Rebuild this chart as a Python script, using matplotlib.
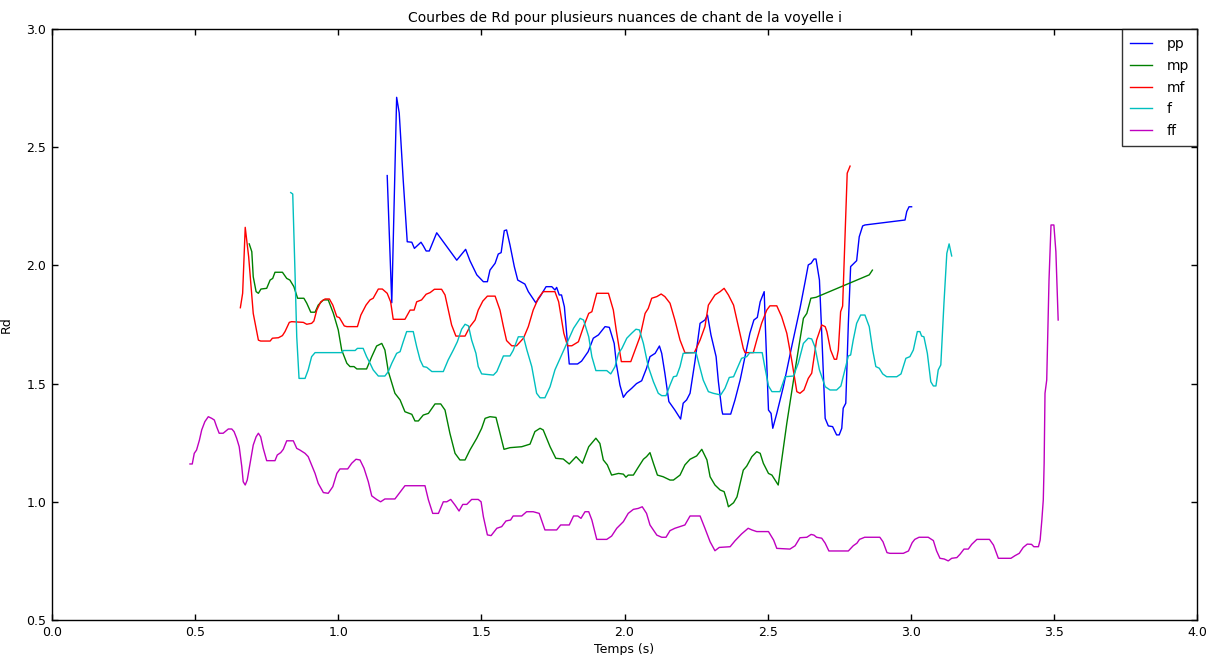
import matplotlib
matplotlib.use("Agg")
import matplotlib.pyplot as plt

# ---- data (time in s, Rd) ----
pp_t = [1.171, 1.187, 1.204, 1.213, 1.227, 1.241, 1.257, 1.266, 1.289, 1.297, 1.307, 1.318, 1.344, 1.414,
        1.445, 1.46, 1.484, 1.507, 1.521, 1.53, 1.548, 1.559, 1.569, 1.58, 1.588, 1.6, 1.615, 1.627, 1.652,
        1.664, 1.69, 1.705, 1.726, 1.746, 1.757, 1.763, 1.772, 1.78, 1.79, 1.807, 1.836, 1.85, 1.873, 1.891,
        1.909, 1.932, 1.947, 1.964, 1.972, 1.984, 1.996, 2.008, 2.025, 2.042, 2.06, 2.077, 2.089, 2.107, 2.122,
        2.13, 2.141, 2.155, 2.176, 2.196, 2.205, 2.217, 2.229, 2.246, 2.264, 2.281, 2.29, 2.302, 2.32, 2.328,
        2.34, 2.343, 2.371, 2.386, 2.404, 2.421, 2.438, 2.452, 2.464, 2.474, 2.488, 2.493, 2.503, 2.512, 2.518,
        2.532, 2.555, 2.584, 2.613, 2.631, 2.642, 2.652, 2.662, 2.669, 2.681, 2.689, 2.701, 2.712, 2.727, 2.741,
        2.75, 2.759, 2.764, 2.773, 2.782, 2.79, 2.811, 2.82, 2.832, 2.84, 2.98, 2.986, 2.994, 3.003]
pp_rd = [2.38, 1.842, 2.711, 2.645, 2.36, 2.10, 2.098, 2.072, 2.098, 2.083, 2.061, 2.061, 2.138, 2.022,
         2.068, 2.02, 1.96, 1.931, 1.931, 1.98, 2.009, 2.048, 2.054, 2.147, 2.15, 2.086, 1.995, 1.938, 1.921,
         1.889, 1.842, 1.868, 1.91, 1.91, 1.896, 1.907, 1.875, 1.875, 1.825, 1.583, 1.583, 1.595, 1.635, 1.692,
         1.706, 1.741, 1.738, 1.67, 1.58, 1.494, 1.442, 1.462, 1.48, 1.50, 1.512, 1.565, 1.614, 1.628, 1.659,
         1.628, 1.544, 1.424, 1.388, 1.35, 1.417, 1.431, 1.459, 1.593, 1.755, 1.769, 1.79, 1.706, 1.614, 1.508,
         1.388, 1.371, 1.371, 1.431, 1.515, 1.614, 1.713, 1.769, 1.78, 1.846, 1.889, 1.713, 1.388, 1.374, 1.311,
         1.374, 1.487, 1.656, 1.818, 1.931, 2.002, 2.009, 2.027, 2.027, 1.938, 1.713, 1.353, 1.321, 1.318, 1.283,
         1.283, 1.311, 1.396, 1.417, 1.755, 1.995, 2.02, 2.121, 2.167, 2.171, 2.192, 2.228, 2.248, 2.248]

mp_t = [0.689, 0.698, 0.703, 0.713, 0.721, 0.73, 0.75, 0.762, 0.771, 0.779, 0.805, 0.82, 0.831, 0.845, 0.858,
        0.88, 0.89, 0.904, 0.919, 0.93, 0.948, 0.965, 0.983, 1.0, 1.012, 1.03, 1.041, 1.055, 1.065, 1.099,
        1.117, 1.134, 1.152, 1.163, 1.175, 1.198, 1.216, 1.233, 1.257, 1.268, 1.28, 1.297, 1.315, 1.338, 1.358,
        1.373, 1.39, 1.408, 1.425, 1.443, 1.46, 1.484, 1.501, 1.513, 1.53, 1.551, 1.565, 1.579, 1.60, 1.641,
        1.67, 1.687, 1.705, 1.716, 1.74, 1.76, 1.786, 1.807, 1.831, 1.853, 1.875, 1.90, 1.914, 1.926, 1.94,
        1.955, 1.979, 1.996, 2.005, 2.013, 2.031, 2.048, 2.066, 2.077, 2.089, 2.101, 2.115, 2.135, 2.159, 2.171,
        2.194, 2.211, 2.229, 2.252, 2.27, 2.288, 2.299, 2.316, 2.334, 2.348, 2.357, 2.363, 2.381, 2.393, 2.404,
        2.415, 2.427, 2.445, 2.462, 2.474, 2.485, 2.503, 2.515, 2.526, 2.537, 2.567, 2.596, 2.625, 2.637, 2.651,
        2.669, 2.855, 2.866]
mp_rd = [2.091, 2.058, 1.952, 1.889, 1.882, 1.90, 1.903, 1.938, 1.945, 1.971, 1.971, 1.945, 1.938, 1.91, 1.861,
         1.861, 1.84, 1.802, 1.802, 1.832, 1.854, 1.854, 1.797, 1.727, 1.642, 1.586, 1.572, 1.572, 1.562, 1.562,
         1.614, 1.659, 1.67, 1.642, 1.551, 1.459, 1.431, 1.381, 1.37, 1.342, 1.342, 1.367, 1.374, 1.414, 1.414,
         1.388, 1.29, 1.205, 1.177, 1.177, 1.219, 1.269, 1.311, 1.353, 1.36, 1.357, 1.29, 1.222, 1.229, 1.233,
         1.244, 1.297, 1.311, 1.304, 1.233, 1.184, 1.181, 1.16, 1.191, 1.163, 1.233, 1.269, 1.247, 1.177, 1.156,
         1.113, 1.12, 1.117, 1.104, 1.113, 1.113, 1.146, 1.18, 1.191, 1.208, 1.163, 1.113, 1.106, 1.092, 1.092,
         1.113, 1.156, 1.18, 1.194, 1.222, 1.177, 1.106, 1.071, 1.05, 1.043, 1.008, 0.979, 0.996, 1.021, 1.078,
         1.134, 1.151, 1.191, 1.212, 1.205, 1.163, 1.12, 1.113, 1.092, 1.071, 1.332, 1.558, 1.776, 1.797, 1.861,
         1.865, 1.96, 1.98]

mf_t = [0.658, 0.666, 0.675, 0.687, 0.703, 0.721, 0.729, 0.762, 0.77, 0.791, 0.805, 0.814, 0.829, 0.837, 0.878,
        0.89, 0.907, 0.915, 0.925, 0.939, 0.954, 0.969, 0.981, 0.995, 1.004, 1.021, 1.03, 1.067, 1.079, 1.097,
        1.111, 1.122, 1.14, 1.154, 1.171, 1.183, 1.192, 1.233, 1.251, 1.265, 1.274, 1.291, 1.307, 1.321, 1.336,
        1.361, 1.373, 1.387, 1.396, 1.411, 1.443, 1.46, 1.478, 1.489, 1.505, 1.521, 1.548, 1.565, 1.577, 1.588,
        1.606, 1.623, 1.647, 1.664, 1.681, 1.699, 1.716, 1.757, 1.77, 1.788, 1.801, 1.816, 1.839, 1.857, 1.875,
        1.886, 1.903, 1.944, 1.961, 1.971, 1.989, 2.022, 2.037, 2.054, 2.072, 2.083, 2.095, 2.113, 2.128, 2.141,
        2.159, 2.176, 2.194, 2.211, 2.244, 2.264, 2.281, 2.293, 2.316, 2.334, 2.348, 2.363, 2.381, 2.398, 2.415,
        2.421, 2.45, 2.462, 2.479, 2.497, 2.508, 2.532, 2.549, 2.567, 2.584, 2.602, 2.613, 2.627, 2.642, 2.654,
        2.671, 2.689, 2.701, 2.707, 2.72, 2.733, 2.741, 2.747, 2.755, 2.762, 2.77, 2.778, 2.788]
mf_rd = [1.821, 1.882, 2.161, 2.037, 1.797, 1.684, 1.68, 1.68, 1.692, 1.694, 1.703, 1.72, 1.759, 1.762, 1.759,
         1.751, 1.755, 1.765, 1.811, 1.846, 1.858, 1.858, 1.832, 1.783, 1.779, 1.744, 1.741, 1.741, 1.79, 1.832,
         1.854, 1.861, 1.90, 1.90, 1.882, 1.846, 1.772, 1.772, 1.811, 1.811, 1.846, 1.854, 1.878, 1.885, 1.899,
         1.899, 1.875, 1.797, 1.748, 1.701, 1.701, 1.741, 1.769, 1.811, 1.849, 1.87, 1.87, 1.811, 1.741, 1.682,
         1.66, 1.66, 1.692, 1.741, 1.811, 1.861, 1.889, 1.889, 1.846, 1.713, 1.66, 1.66, 1.677, 1.741, 1.797,
         1.804, 1.882, 1.882, 1.811, 1.727, 1.593, 1.593, 1.642, 1.698, 1.797, 1.818, 1.861, 1.868, 1.879, 1.868,
         1.84, 1.769, 1.684, 1.631, 1.631, 1.684, 1.741, 1.832, 1.875, 1.889, 1.903, 1.875, 1.832, 1.741, 1.649,
         1.631, 1.631, 1.684, 1.755, 1.811, 1.829, 1.829, 1.783, 1.713, 1.60, 1.466, 1.459, 1.473, 1.522, 1.544,
         1.684, 1.748, 1.741, 1.72, 1.642, 1.603, 1.603, 1.642, 1.804, 1.828, 2.107, 2.39, 2.42]

f_t = [0.834, 0.841, 0.849, 0.855, 0.863, 0.884, 0.895, 0.907, 0.919, 1.012, 1.018, 1.059, 1.067, 1.087, 1.099,
       1.111, 1.122, 1.14, 1.163, 1.175, 1.187, 1.204, 1.216, 1.227, 1.239, 1.262, 1.274, 1.286, 1.297, 1.309,
       1.327, 1.367, 1.384, 1.402, 1.416, 1.431, 1.443, 1.455, 1.466, 1.481, 1.489, 1.501, 1.542, 1.554, 1.577,
       1.60, 1.611, 1.629, 1.647, 1.659, 1.676, 1.693, 1.705, 1.722, 1.74, 1.757, 1.775, 1.798, 1.822, 1.845,
       1.857, 1.875, 1.886, 1.90, 1.938, 1.952, 1.967, 1.979, 1.991, 2.008, 2.025, 2.04, 2.052, 2.066, 2.083,
       2.101, 2.118, 2.13, 2.145, 2.159, 2.171, 2.182, 2.194, 2.205, 2.25, 2.261, 2.275, 2.293, 2.31, 2.336,
       2.351, 2.366, 2.381, 2.392, 2.409, 2.427, 2.438, 2.481, 2.49, 2.503, 2.515, 2.543, 2.561, 2.59, 2.607,
       2.625, 2.642, 2.654, 2.665, 2.681, 2.701, 2.718, 2.741, 2.756, 2.77, 2.782, 2.79, 2.799, 2.811, 2.825,
       2.84, 2.855, 2.867, 2.878, 2.89, 2.902, 2.916, 2.951, 2.966, 2.983, 2.997, 3.009, 3.023, 3.032, 3.038,
       3.046, 3.058, 3.07, 3.079, 3.088, 3.096, 3.105, 3.116, 3.126, 3.134, 3.143]
f_rd = [2.308, 2.302, 1.967, 1.698, 1.522, 1.522, 1.558, 1.614, 1.631, 1.631, 1.64, 1.64, 1.649, 1.649, 1.614,
        1.586, 1.558, 1.532, 1.532, 1.551, 1.586, 1.628, 1.635, 1.677, 1.72, 1.72, 1.656, 1.60, 1.572, 1.569,
        1.551, 1.551, 1.60, 1.642, 1.677, 1.73, 1.751, 1.744, 1.684, 1.628, 1.572, 1.541, 1.536, 1.551, 1.617,
        1.617, 1.64, 1.698, 1.698, 1.642, 1.572, 1.459, 1.44, 1.44, 1.487, 1.558, 1.607, 1.67, 1.734, 1.776,
        1.769, 1.698, 1.614, 1.555, 1.555, 1.541, 1.572, 1.628, 1.649, 1.692, 1.713, 1.73, 1.727, 1.67, 1.572,
        1.508, 1.459, 1.449, 1.449, 1.494, 1.529, 1.532, 1.572, 1.628, 1.631, 1.579, 1.515, 1.466, 1.459, 1.452,
        1.48, 1.526, 1.529, 1.56, 1.607, 1.614, 1.631, 1.631, 1.572, 1.49, 1.466, 1.466, 1.529, 1.532, 1.586,
        1.67, 1.692, 1.689, 1.656, 1.558, 1.487, 1.473, 1.473, 1.49, 1.558, 1.617, 1.621, 1.684, 1.755, 1.79,
        1.79, 1.741, 1.642, 1.572, 1.565, 1.541, 1.529, 1.529, 1.541, 1.607, 1.614, 1.642, 1.72, 1.72, 1.701,
        1.698, 1.628, 1.508, 1.49, 1.49, 1.558, 1.579, 1.84, 2.051, 2.091, 2.04]

ff_t = [0.482, 0.49, 0.497, 0.505, 0.515, 0.523, 0.534, 0.546, 0.558, 0.567, 0.575, 0.584, 0.598, 0.616, 0.628,
        0.636, 0.645, 0.654, 0.663, 0.668, 0.675, 0.682, 0.692, 0.703, 0.713, 0.721, 0.729, 0.738, 0.75, 0.779,
        0.787, 0.799, 0.808, 0.82, 0.843, 0.855, 0.866, 0.884, 0.895, 0.907, 0.919, 0.93, 0.948, 0.965, 0.981,
        0.995, 1.006, 1.033, 1.047, 1.062, 1.076, 1.09, 1.105, 1.117, 1.134, 1.148, 1.163, 1.198, 1.213, 1.233,
        1.303, 1.315, 1.33, 1.35, 1.367, 1.379, 1.393, 1.408, 1.422, 1.435, 1.449, 1.466, 1.489, 1.499, 1.507,
        1.521, 1.534, 1.554, 1.571, 1.586, 1.602, 1.611, 1.641, 1.658, 1.681, 1.702, 1.722, 1.763, 1.777, 1.807,
        1.822, 1.837, 1.848, 1.862, 1.875, 1.886, 1.903, 1.938, 1.955, 1.973, 1.996, 2.013, 2.031, 2.048, 2.062,
        2.077, 2.089, 2.113, 2.13, 2.145, 2.159, 2.176, 2.194, 2.211, 2.229, 2.264, 2.281, 2.299, 2.316, 2.331,
        2.369, 2.386, 2.409, 2.432, 2.445, 2.462, 2.503, 2.521, 2.532, 2.578, 2.596, 2.613, 2.637, 2.652, 2.662,
        2.671, 2.689, 2.701, 2.714, 2.782, 2.799, 2.812, 2.821, 2.839, 2.892, 2.903, 2.917, 2.927, 2.974, 2.992,
        3.005, 3.014, 3.029, 3.061, 3.079, 3.09, 3.102, 3.117, 3.131, 3.143, 3.161, 3.172, 3.186, 3.201, 3.213,
        3.231, 3.275, 3.289, 3.306, 3.35, 3.364, 3.379, 3.393, 3.407, 3.422, 3.43, 3.446, 3.452, 3.458, 3.463,
        3.466, 3.469, 3.475, 3.483, 3.49, 3.5, 3.507, 3.515]
ff_rd = [1.16, 1.16, 1.205, 1.219, 1.261, 1.304, 1.339, 1.36, 1.353, 1.346, 1.318, 1.29, 1.29, 1.308, 1.308,
         1.297, 1.269, 1.233, 1.149, 1.085, 1.071, 1.092, 1.163, 1.24, 1.275, 1.29, 1.275, 1.226, 1.174, 1.174,
         1.198, 1.208, 1.222, 1.258, 1.258, 1.226, 1.219, 1.205, 1.191, 1.156, 1.12, 1.078, 1.039, 1.036, 1.064,
         1.12, 1.139, 1.139, 1.163, 1.18, 1.177, 1.142, 1.085, 1.025, 1.01, 1.0, 1.012, 1.012, 1.036, 1.068,
         1.068, 1.008, 0.951, 0.951, 1.0, 1.0, 1.01, 0.986, 0.961, 0.989, 0.989, 1.01, 1.01, 1.0, 0.937,
         0.86, 0.857, 0.888, 0.895, 0.919, 0.923, 0.94, 0.94, 0.958, 0.958, 0.951, 0.881, 0.881, 0.902, 0.902,
         0.94, 0.94, 0.93, 0.958, 0.958, 0.923, 0.841, 0.841, 0.855, 0.888, 0.916, 0.951, 0.968, 0.972, 0.979,
         0.951, 0.902, 0.859, 0.85, 0.85, 0.878, 0.888, 0.895, 0.902, 0.94, 0.94, 0.888, 0.831, 0.793, 0.807,
         0.81, 0.835, 0.864, 0.888, 0.881, 0.874, 0.874, 0.838, 0.803, 0.80, 0.814, 0.848, 0.85, 0.862, 0.859,
         0.85, 0.846, 0.825, 0.792, 0.792, 0.814, 0.825, 0.841, 0.85, 0.85, 0.831, 0.785, 0.782, 0.782, 0.792,
         0.827, 0.841, 0.85, 0.85, 0.836, 0.793, 0.761, 0.758, 0.75, 0.761, 0.764, 0.778, 0.80, 0.80, 0.82,
         0.841, 0.841, 0.817, 0.761, 0.761, 0.772, 0.782, 0.807, 0.821, 0.82, 0.81, 0.81, 0.838, 0.923, 1.008,
         1.163, 1.459, 1.515, 1.938, 2.171, 2.171, 2.058, 1.769]

labels = ["pp", "mp", "mf", "f", "ff"]
colors = ["#0000ff", "#008000", "#ff0000", "#00bfbf", "#bf00bf"]
x_ticks = [0.0, 0.5, 1.0, 1.5, 2.0, 2.5, 3.0, 3.5, 4.0]
y_ticks = [0.5, 1.0, 1.5, 2.0, 2.5, 3.0]

fig = plt.figure(figsize=(12.14, 6.55), dpi=100, facecolor="white")
ax = fig.add_axes([52 / 1214, 35 / 655, 1145 / 1214, 591 / 655])

series = [(pp_t, pp_rd), (mp_t, mp_rd), (mf_t, mf_rd), (f_t, f_rd), (ff_t, ff_rd)]
for (t, rd), lab, col in zip(series, labels, colors):
    ax.plot(t, rd, color=col, lw=1.0, label=lab)

ax.set_xlim(0.0, 4.0)
ax.set_ylim(0.5, 3.0)
ax.set_xticks(x_ticks)
ax.set_yticks(y_ticks)
ax.set_xticklabels([f"{v:.1f}" for v in x_ticks])
ax.set_yticklabels([f"{v:.1f}" for v in y_ticks])
ax.tick_params(direction="in", top=True, right=True, length=4, width=1, labelsize=9, pad=4)
for sp in ax.spines.values():
    sp.set_linewidth(1.0)

ax.set_title("Courbes de Rd pour plusieurs nuances de chant de la voyelle i", fontsize=10, pad=5)
ax.set_xlabel("Temps (s)", fontsize=9, labelpad=3)
ax.set_ylabel("Rd", fontsize=9, labelpad=10)

leg = ax.legend(loc="upper right", borderaxespad=0, fontsize=10, fancybox=False,
                handlelength=1.6, handletextpad=1.0, borderpad=0.6, labelspacing=0.55)
leg.get_frame().set_edgecolor("black")
leg.get_frame().set_linewidth(1.0)

fig.savefig("out.png", dpi=100, facecolor="white")
